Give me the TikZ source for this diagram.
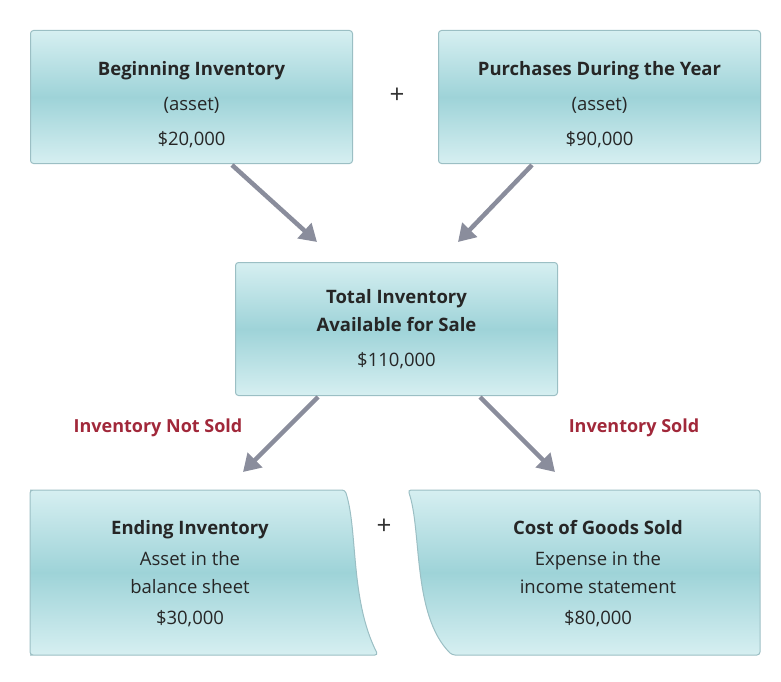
\documentclass[tikz,border=0pt]{standalone}
\usepackage{fontspec}
\setmainfont{Open Sans}
\usetikzlibrary{arrows.meta}
\definecolor{boxline}{HTML}{9BBFC4}
\definecolor{boxtop}{HTML}{D6EFF1}
\definecolor{boxmid}{HTML}{9ED3D8}
\definecolor{arrowgray}{HTML}{8A8D9C}
\definecolor{labelred}{HTML}{A1283A}
\tikzset{
  box/.style={draw=boxline, line width=1pt, rounded corners=3pt,
    top color=boxtop, bottom color=boxtop, middle color=boxmid},
  boxnode/.style={box, minimum width=322pt, minimum height=133pt, anchor=north west,
    align=center, font=\fontsize{18.5}{35}\selectfont, text=black!85},
  boxtext/.style={align=center, font=\fontsize{18.5}{31}\selectfont, text=black!85},
  flow/.style={-{Triangle[length=17pt,width=20pt]}, line width=4.5pt, arrowgray},
  plus/.style={font=\fontsize{26}{26}\selectfont, text=black!80},
  sidelabel/.style={font=\fontsize{18}{20}\selectfont\bfseries, text=labelred}
}
\begin{document}
\begin{tikzpicture}[x=1pt,y=-1pt]
\useasboundingbox (0,0) rectangle (781,682);

% top row
\node[boxnode] (begin) at (30,30) {\rule{0pt}{30pt}\textbf{Beginning Inventory}\\(asset)\\\$20,000};
\node[boxnode] (purch) at (438,30) {\rule{0pt}{30pt}\textbf{Purchases During the Year}\\(asset)\\\$90,000};
\node[plus] (plusa) at (397,96) {+};

% middle
\node[boxnode] (total) at (235,262) {\textbf{Total Inventory}\\[-7pt]\textbf{Available for Sale}\\\$110,000};

% bottom row
\draw[box] (33,490) -- (345,490) .. controls (358,530) and (350,600) .. (378,655)
  -- (33,655) [rounded corners=3pt] -- (30,655) -- (30,490) -- cycle;
\draw[box] (408,490) .. controls (422,530) and (412,615) .. (452,655)
  -- (760,655) -- (760,490) -- cycle;
\node[plus] (plusb) at (384,527) {+};
\node[boxtext] (ending) at (190,574)
  {\textbf{Ending Inventory}\\Asset in the\\[-3pt]balance sheet\\\$30,000};
\node[boxtext] (cogs) at (598,574)
  {\textbf{Cost of Goods Sold}\\Expense in the\\[-3pt]income statement\\\$80,000};

% arrows
\coordinate (a1) at (232,165); \coordinate (b1) at (317,242);
\coordinate (a2) at (532,165); \coordinate (b2) at (458,242);
\coordinate (a3) at (318,397); \coordinate (b3) at (243,472);
\coordinate (a4) at (480,397); \coordinate (b4) at (555,472);
\draw[flow] (a1) -- (b1);
\draw[flow] (a2) -- (b2);
\draw[flow] (a3) -- (b3);
\draw[flow] (a4) -- (b4);

\node[sidelabel] (notsold) at (158,428) {Inventory Not Sold};
\node[sidelabel] (sold) at (634,428) {Inventory Sold};
\end{tikzpicture}
\end{document}
